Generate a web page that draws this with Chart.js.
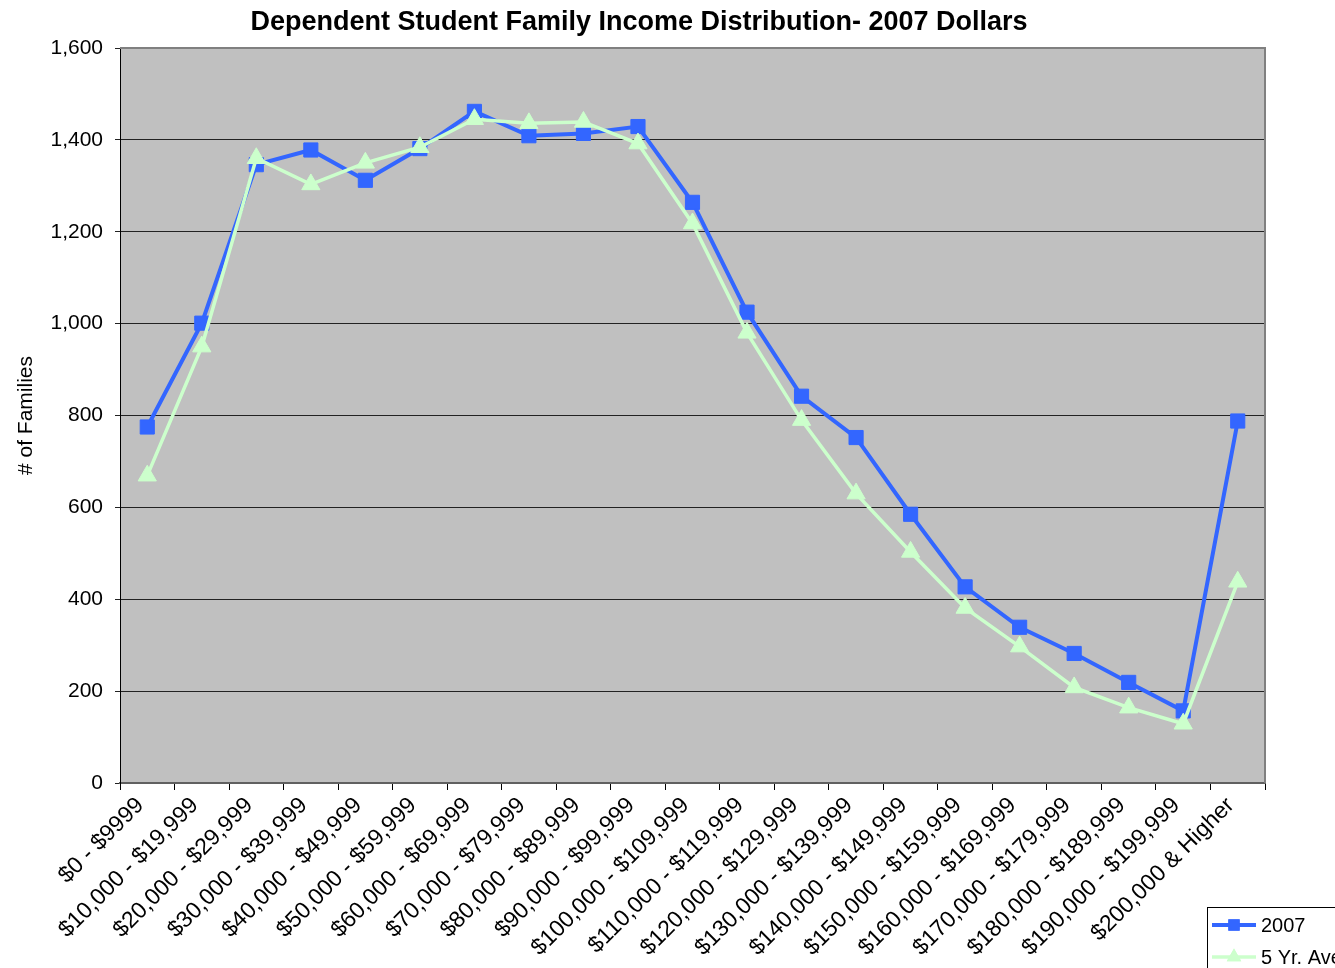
<!DOCTYPE html>
<html>
<head>
<meta charset="utf-8">
<script src="https://cdn.jsdelivr.net/npm/chart.js@4/dist/chart.umd.min.js"></script>
<style>
  html, body { margin: 0; padding: 0; background: #fff; overflow: hidden; }
  #wrap { width: 1335px; height: 968px; }
</style>
</head>
<body>
<div id="wrap"><canvas id="chart" width="1335" height="968"></canvas></div>
<script>
const categories = [
  '$0 - $9999', '$10,000 - $19,999', '$20,000 - $29,999', '$30,000 - $39,999',
  '$40,000 - $49,999', '$50,000 - $59,999', '$60,000 - $69,999', '$70,000 - $79,999',
  '$80,000 - $89,999', '$90,000 - $99,999', '$100,000 - $109,999', '$110,000 - $119,999',
  '$120,000 - $129,999', '$130,000 - $139,999', '$140,000 - $149,999', '$150,000 - $159,999',
  '$160,000 - $169,999', '$170,000 - $179,999', '$180,000 - $189,999', '$190,000 - $199,999',
  '$200,000 & Higher'
];
const values2007 = [775, 1001, 1346, 1378, 1312, 1381, 1462, 1409, 1414, 1429, 1264,
  1025, 842, 752, 585, 427, 339, 282, 219, 157, 788];
const values5yr = [669, 950, 1360, 1303, 1350, 1384, 1445, 1436, 1439, 1392, 1218,
  980, 790, 630, 503, 381, 297, 208, 164, 129, 438];
const yTicks = [0, 200, 400, 600, 800, 1000, 1200, 1400, 1600];

const FONT = 'Arial, "Liberation Sans", sans-serif';

// grey plot area + frame, drawn behind the lines
const plotBg = {
  id: 'plotBg',
  beforeDraw(chart) {
    const { ctx, chartArea: a } = chart;
    ctx.save();
    ctx.fillStyle = '#c0c0c0';
    ctx.fillRect(a.left, a.top, a.right - a.left, a.bottom - a.top);
    ctx.restore();
  },
  afterDatasetsDraw(chart) {
    const { ctx, chartArea: a } = chart;
    ctx.save();
    ctx.strokeStyle = '#808080';
    ctx.lineWidth = 2;
    ctx.beginPath();
    ctx.moveTo(a.left, a.top);
    ctx.lineTo(a.right, a.top);
    ctx.lineTo(a.right, a.bottom);
    ctx.stroke();
    ctx.restore();
  }
};

// legend box sitting in the bottom right corner (runs off the page like the original)
const cornerLegend = {
  id: 'cornerLegend',
  afterDraw(chart) {
    const ctx = chart.ctx;
    const x0 = 1207.5, y0 = 907.5;
    ctx.save();
    ctx.fillStyle = '#fff';
    ctx.fillRect(x0, y0, 200, 80);
    ctx.strokeStyle = '#000';
    ctx.lineWidth = 1;
    ctx.strokeRect(x0, y0, 200, 80);
    chart.data.datasets.forEach((ds, i) => {
      const y = 925 + i * 32;
      ctx.strokeStyle = ds.borderColor;
      ctx.lineWidth = ds.borderWidth;
      ctx.beginPath();
      ctx.moveTo(1212, y);
      ctx.lineTo(1256, y);
      ctx.stroke();
      ctx.fillStyle = ds.pointBackgroundColor;
      Chart.helpers.drawPoint(ctx, { pointStyle: ds.pointStyle, radius: ds.pointRadius * 0.8, borderWidth: 0 }, 1234, y);
      ctx.fill();
      ctx.fillStyle = '#000';
      ctx.font = '20px ' + FONT;
      ctx.textBaseline = 'middle';
      ctx.fillText(ds.label, 1261, y + 1);
    });
    ctx.restore();
  }
};

new Chart(document.getElementById('chart'), {
  type: 'line',
  data: {
    labels: categories,
    datasets: [
      {
        label: '2007',
        data: values2007,
        borderColor: '#3366ff',
        backgroundColor: '#3366ff',
        pointBackgroundColor: '#3366ff',
        pointBorderColor: '#3366ff',
        borderWidth: 4,
        pointStyle: 'rect',
        pointRadius: 10,
        pointBorderWidth: 1,
        tension: 0,
        order: 2
      },
      {
        label: '5 Yr. Average',
        data: values5yr,
        borderColor: '#ccffcc',
        backgroundColor: '#ccffcc',
        pointBackgroundColor: '#ccffcc',
        pointBorderColor: '#ccffcc',
        borderWidth: 3.5,
        pointStyle: 'triangle',
        pointRadius: 10.5,
        pointBorderWidth: 1,
        tension: 0,
        order: 1
      }
    ]
  },
  options: {
    responsive: false,
    animation: false,
    layout: { padding: { left: 13, right: 70, top: 0, bottom: 0 } },
    plugins: {
      legend: { display: false },
      tooltip: { enabled: false },
      title: {
        display: true,
        text: 'Dependent Student Family Income Distribution- 2007 Dollars',
        color: '#000',
        font: { family: FONT, size: 27, weight: 'bold' },
        padding: { top: 6, bottom: 9.6 }
      }
    },
    scales: {
      x: {
        offset: true,
        grid: { display: true, drawOnChartArea: false, offset: true, drawTicks: true, tickLength: 7, color: '#000' },
        border: { display: true, color: '#606060', width: 2 },
        ticks: {
          color: '#000',
          font: { family: FONT, size: 23 },
          minRotation: 45,
          maxRotation: 45,
          autoSkip: false,
          padding: 2,
          labelOffset: -7
        },
        afterFit(scale) { scale.height = 185; }
      },
      y: {
        min: 0,
        max: 1600,
        afterBuildTicks(scale) { scale.ticks = yTicks.map(v => ({ value: v })); },
        grid: { color: '#222', lineWidth: 1, drawTicks: true, tickLength: 5 },
        border: { display: true, color: '#000', width: 1 },
        ticks: {
          color: '#000',
          font: { family: FONT, size: 21 },
          padding: 12,
          callback: v => v.toLocaleString('en-US')
        },
        title: {
          display: true,
          text: '# of Families',
          color: '#000',
          font: { family: FONT, size: 21 },
          padding: { top: 1, bottom: 0 }
        },
        afterFit(scale) { scale.width = 107; }
      }
    }
  },
  plugins: [plotBg, cornerLegend]
});
</script>
</body>
</html>
